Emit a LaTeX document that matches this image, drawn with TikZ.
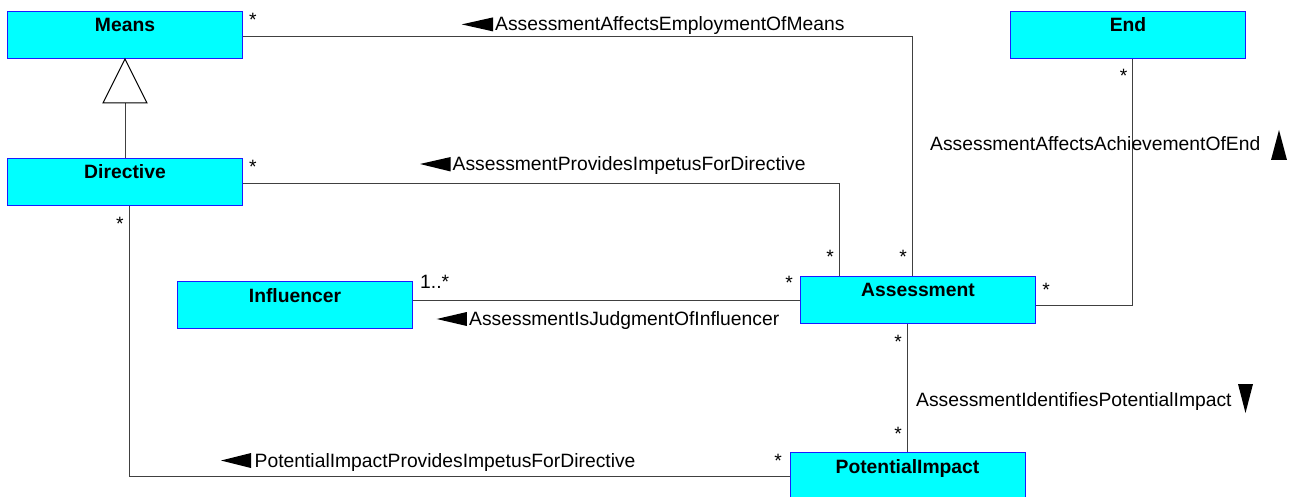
\documentclass[tikz,border=0pt]{standalone}
\usepackage{fontspec}
\setmainfont{Liberation Sans}
\definecolor{boxfill}{HTML}{00FFFF}
\definecolor{boxline}{HTML}{1A1AFF}
\definecolor{linecol}{HTML}{404040}
\begin{document}
\begin{tikzpicture}[x=1pt,y=-1pt,
  cls/.style={draw=boxline, fill=boxfill, line width=1pt, inner sep=0pt,
    text width=235pt, align=center, text height=20.5pt, text depth=26.5pt,
    font=\fontsize{19.3}{22}\selectfont\bfseries, anchor=north west},
  assoc/.style={draw=linecol, line width=1pt},
  lbl/.style={inner sep=0pt, anchor=base west, font=\fontsize{19.3}{22}\selectfont},
  mult/.style={inner sep=0pt, anchor=base, font=\fontsize{19.3}{22}\selectfont},
  dirmark/.style={fill=black}
]
\useasboundingbox (0,0) rectangle (1291,497);
% classes
\node[cls] (means) at (7,11) {Means};
\node[cls] (dir) at (7,158) {Directive};
\node[cls] (endc) at (1010,11) {End};
\node[cls] (assess) at (800,276) {Assessment};
\node[cls] (infl) at (177,281) {Influencer};
\node[cls] (pi) at (789.5,452) {PotentialImpact};
% generalization
\coordinate (tb) at ([yshift=-44pt]means.south);
\draw[assoc] (dir.north) -- (tb);
\draw[draw=black, line width=1pt, fill=white] (means.south) -- ([xshift=-22pt]tb) -- ([xshift=22pt]tb) -- cycle;
% associations
\draw[assoc] ([yshift=-1.5pt]means.east) -| ([xshift=-5.5pt]assess.north);
\draw[assoc] ([yshift=-1.5pt]dir.east) -| ([xshift=-79pt]assess.north);
\draw[assoc] (infl.east |- assess.west) -- (assess.west);
\draw[assoc] ([xshift=4.5pt]endc.south) |- ([yshift=-5.5pt]assess.east);
\draw[assoc] (pi.north |- assess.south) -- (pi.north);
\draw[assoc] ([xshift=4pt]dir.south) |- (pi.west);
% association names
\node[lbl] (l1) at (495,31) {AssessmentAffectsEmploymentOfMeans};
\node[lbl] (l2) at (452.5,171) {AssessmentProvidesImpetusForDirective};
\node[lbl] (l3) at (469,325) {AssessmentIsJudgmentOfInfluencer};
\node[lbl] (l4) at (254.5,467) {PotentialImpactProvidesImpetusForDirective};
\node[lbl] (l5) at (930,151) {AssessmentAffectsAchievementOfEnd};
\node[lbl] (l6) at (916,406) {AssessmentIdentifiesPotentialImpact};
% direction markers
\fill[dirmark] (461.7,24.4) -- (493,17.4) -- (493,31.4) -- cycle;
\fill[dirmark] (420,164) -- (450.7,157) -- (450.7,171.5) -- cycle;
\fill[dirmark] (436.7,319) -- (466.8,312) -- (466.8,326) -- cycle;
\fill[dirmark] (221,460.5) -- (251,453) -- (251,468) -- cycle;
\fill[dirmark] (1279,130) -- (1271,160) -- (1287,160) -- cycle;
\fill[dirmark] (1245.5,413) -- (1238,384) -- (1253,384) -- cycle;
% multiplicities
\node[mult] (m1) at (253,27) {*};
\node[mult] (m2) at (253,174) {*};
\node[mult] (m3) at (120,231) {*};
\node[mult] (m4) at (830,264) {*};
\node[mult] (m5) at (903,264) {*};
\node[mult] (m6) at (789,290) {*};
\node[mult] (m7) at (1046,296) {*};
\node[mult] (m8) at (1123.5,83) {*};
\node[mult] (m9) at (898,348) {*};
\node[mult] (m10) at (898,440) {*};
\node[mult] (m11) at (778,467) {*};
\node[lbl] (m12) at (420,289) {1..*};
\end{tikzpicture}
\end{document}
